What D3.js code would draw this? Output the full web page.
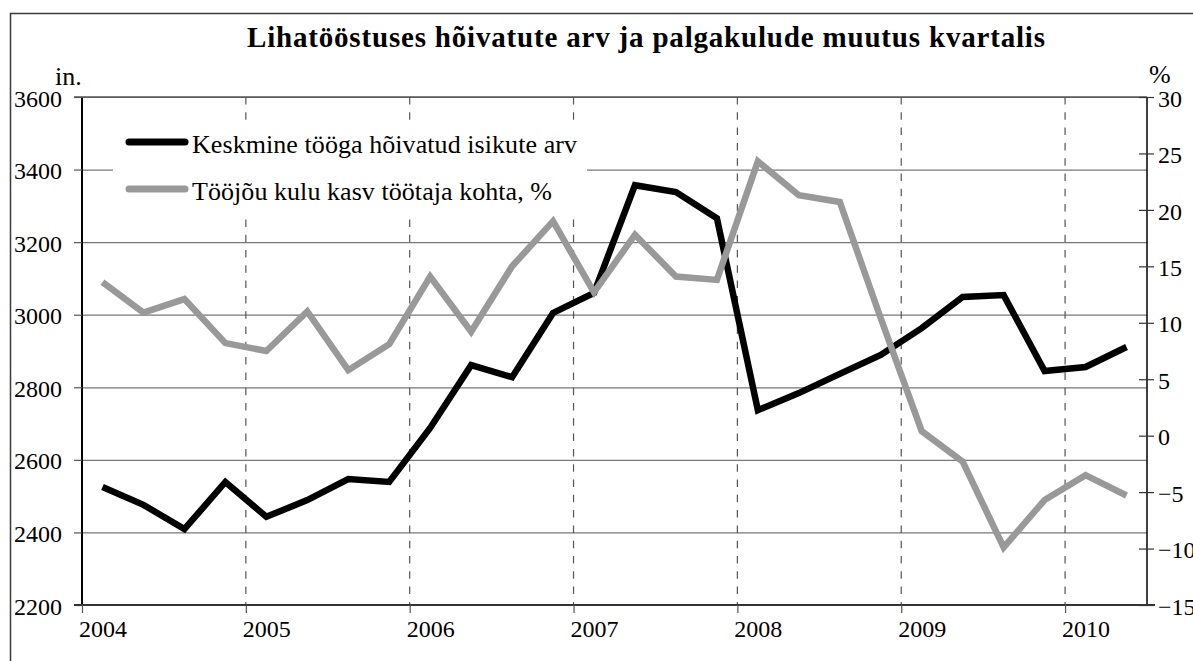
<!DOCTYPE html>
<html>
<head>
<meta charset="utf-8">
<script src="https://cdn.jsdelivr.net/npm/d3@7"></script>
<style>
  body { margin:0; background:#fff; }
  svg { display:block; }
  svg text { font-family:"Liberation Serif","Times New Roman",serif !important; fill:#000; }
</style>
</head>
<body>
<svg id="chart"></svg>
<script>
// quarterly data 2004 Q1 .. 2010 Q2
var years = ["2004","2005","2006","2007","2008","2009","2010"];
var employees = [2525,2476,2409,2539,2443,2489,2547,2539,2688,2861,2828,3005,3060,3357,3338,3266,2737,2784,2837,2889,2963,3049,3054,2845,2856,2911];
var laborCost = [13.6,10.9,12.1,8.2,7.5,11.0,5.8,8.1,14.1,9.2,15.0,19.0,12.7,17.8,14.1,13.8,24.3,21.3,20.7,10.4,0.4,-2.3,-9.9,-5.7,-3.5,-5.3];
var leftTicks = [2200,2400,2600,2800,3000,3200,3400,3600];
var rightTicks = [-15,-10,-5,0,5,10,15,20,25,30];
var seriesNames = ["Keskmine tööga hõivatud isikute arv","Tööjõu kulu kasv töötaja kohta, %"];
var title = "Lihatööstuses hõivatute arv ja palgakulude muutus kvartalis";

var serif = "'Liberation Serif', 'Times New Roman', serif";

var screen = {width:1193, height:661};
var margins = {top:97, bottom:56, left:82, right:46};
var width = screen.width - margins.left - margins.right;
var height = screen.height - margins.top - margins.bottom;

var svg = d3.select("#chart")
            .attr("width",screen.width)
            .attr("height",screen.height)
            .style("font-family",serif);

svg.append("rect")
   .attr("width",screen.width).attr("height",screen.height)
   .attr("fill","#fff");

// outer frame (runs off the right/bottom of the picture)
svg.append("rect")
   .attr("x",10.5).attr("y",13.5)
   .attr("width",1400).attr("height",800)
   .attr("fill","none")
   .attr("stroke","#3a3a3a")
   .attr("stroke-width",1.5);

//scales
var nQ = employees.length;
var xScale = d3.scaleLinear()
               .domain([0,nQ])
               .range([0,width]);
var yLeft = d3.scaleLinear()
              .domain([2200,3600])
              .range([height,0]);
var yRight = d3.scaleLinear()
               .domain([-15,30])
               .range([height,0]);

var plot = svg.append("g")
              .attr("transform","translate("+margins.left+","+margins.top+")");

// horizontal grid
var grid = plot.append("g")
               .call(d3.axisLeft(yLeft).tickValues(leftTicks.slice(1)).tickSize(-width).tickFormat(""));
grid.select(".domain").remove();
grid.selectAll("line").attr("stroke","#777").attr("stroke-width",1.2);

// dashed year lines
var yearStarts = d3.range(4,nQ,4);
plot.append("g")
    .selectAll("line")
    .data(yearStarts)
    .enter()
    .append("line")
    .attr("x1",function(d){return xScale(d)})
    .attr("x2",function(d){return xScale(d)})
    .attr("y1",0)
    .attr("y2",height)
    .attr("stroke","#555")
    .attr("stroke-width",1.2)
    .attr("stroke-dasharray","7.5,7.8");

// legend background hides the grid
var legend = plot.append("g")
                 .attr("transform","translate(31,23)");
legend.append("rect")
      .attr("width",474).attr("height",98)
      .attr("fill","#fff");

var lineEmp = d3.line()
                .x(function(d,i){return xScale(i+0.5)})
                .y(function(d){return yLeft(d)});
var lineCost = d3.line()
                 .x(function(d,i){return xScale(i+0.5)})
                 .y(function(d){return yRight(d)});

plot.append("path")
    .datum(employees)
    .attr("d",lineEmp)
    .attr("fill","none")
    .attr("stroke","#000")
    .attr("stroke-width",6.5)
    .attr("stroke-linejoin","miter")
    .attr("stroke-miterlimit",3);

plot.append("path")
    .datum(laborCost)
    .attr("d",lineCost)
    .attr("fill","none")
    .attr("stroke","#999")
    .attr("stroke-width",6.5)
    .attr("stroke-linejoin","miter")
    .attr("stroke-miterlimit",3);

// legend entries
var legendColors = ["#000","#999"];
var legendWidths = [385,360];
var legendLines = legend.selectAll("g.legendLine")
                        .data(seriesNames)
                        .enter()
                        .append("g")
                        .classed("legendLine",true)
                        .attr("transform",function(d,i){return "translate(0,"+(i*47)+")";});
legendLines.append("line")
           .attr("x1",16).attr("x2",72)
           .attr("y1",22).attr("y2",22)
           .attr("stroke",function(d,i){return legendColors[i]})
           .attr("stroke-width",7)
           .attr("stroke-linecap","round");
legendLines.append("text")
           .attr("x",79)
           .attr("y",33)
           .style("font-size","26px")
           .attr("textLength",function(d,i){return legendWidths[i]})
           .attr("lengthAdjust","spacing")
           .text(function(d){return d});

// left axis
var leftAxis = plot.append("g")
                   .call(d3.axisLeft(yLeft).tickValues(leftTicks).tickSize(8).tickPadding(12).tickFormat(d3.format("d")));
leftAxis.attr("font-family",null).attr("font-size",null);
leftAxis.select(".domain").attr("stroke","#000").attr("stroke-width",2).attr("d","M0,0V"+height);
leftAxis.selectAll(".tick line").attr("stroke","#555").attr("stroke-width",1.2);
leftAxis.selectAll("text").style("font-size","24px").style("font-family",serif).attr("dy","0.38em").attr("fill","#000");

// top line of plot area
plot.append("line")
    .attr("x1",-8).attr("x2",width)
    .attr("y1",0).attr("y2",0)
    .attr("stroke","#555").attr("stroke-width",1.5);

// right axis
var rightAxis = plot.append("g")
                    .attr("transform","translate("+width+",0)")
                    .call(d3.axisRight(yRight).tickValues(rightTicks).tickSize(7).tickPadding(4).tickFormat(d3.format("d")));
rightAxis.attr("font-family",null).attr("font-size",null);
rightAxis.select(".domain").attr("stroke","#000").attr("stroke-width",1.5).attr("d","M0,0V"+height);
rightAxis.selectAll(".tick line").attr("x1",-8).attr("stroke","#333").attr("stroke-width",1.2);
rightAxis.selectAll("text").style("font-size","24px").style("font-family",serif).attr("dy","0.38em").attr("fill","#000");

// bottom axis: ticks at year boundaries
var bottomAxis = plot.append("g")
                     .attr("transform","translate(0,"+height+")")
                     .call(d3.axisBottom(xScale).tickValues(d3.range(0,nQ,4)).tickSize(8).tickFormat(""));
bottomAxis.select(".domain").attr("stroke","#333").attr("stroke-width",1.8).attr("d","M-8,0H"+(width+8));
bottomAxis.selectAll(".tick line").attr("stroke","#555").attr("stroke-width",1.2);

// year labels centred on first quarter
var yearAxis = plot.append("g")
                   .attr("transform","translate(0,"+height+")")
                   .call(d3.axisBottom(xScale).tickValues(d3.range(0.5,nQ,4)).tickSize(0).tickPadding(32)
                           .tickFormat(function(d,i){return years[i]}));
yearAxis.attr("font-family",null).attr("font-size",null);
yearAxis.select(".domain").remove();
yearAxis.selectAll("text").style("font-size","24px").style("font-family",serif).attr("fill","#000").attr("dy","0");

// axis unit labels
svg.append("text")
   .attr("x",55).attr("y",85)
   .style("font-size","26px")
   .text("in.");
svg.append("text")
   .attr("x",1149).attr("y",83)
   .style("font-size","26px")
   .text("%");

// title
svg.append("text")
   .attr("x",646).attr("y",47)
   .attr("text-anchor","middle")
   .style("font-size","29px")
   .style("font-weight","bold")
   .attr("textLength",798)
   .attr("lengthAdjust","spacing")
   .text(title);
</script>
</body>
</html>
